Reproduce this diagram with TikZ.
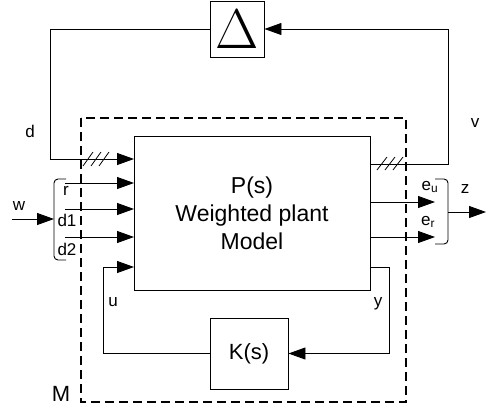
\documentclass[tikz,border=0pt]{standalone}
\usepackage{fontspec}
\setmainfont{Liberation Sans}
\usetikzlibrary{arrows.meta,positioning,calc}

\begin{document}
\begin{tikzpicture}[x=1pt,y=-1pt,
    blk/.style={draw,line width=0.9pt,inner sep=0pt},
    arr/.style={-{Triangle[length=17pt,width=12pt]},line width=0.9pt},
    wire/.style={line width=0.9pt},
    lbl/.style={font=\fontsize{17}{17}\selectfont,inner sep=0pt},
    hatch/.style={line width=0.8pt}]
    \useasboundingbox (0,0) rectangle (486,412);
    % blocks
    \node[blk,minimum width=54pt,minimum height=56pt] (Delta) at (237,29) {\scalebox{2.7}{\fontsize{22}{22}\selectfont$\Delta$}};
    \node[blk,minimum width=236pt,minimum height=154pt,align=center,font=\fontsize{23}{28}\selectfont] (P) at (252,213) {P(s)\\Weighted plant\\Model};
    \node[blk,minimum width=78pt,minimum height=71pt,font=\fontsize{22}{22}\selectfont] (K) at (249,353.5) {K(s)};
    % boundary of M
    \draw[line width=2.6pt,dash pattern=on 9pt off 5pt] (81,118) rectangle (406,402);
    % ports of P
    \coordinate (din) at (134,159);
    \coordinate (rin) at (134,183);
    \coordinate (d1in) at (134,209);
    \coordinate (d2in) at (134,237);
    \coordinate (uin) at (134,267);
    \coordinate (vout) at (370,164);
    \coordinate (euout) at (370,202);
    \coordinate (erout) at (370,237);
    \coordinate (yout) at (370,267);
    % input and output bundles
    \coordinate (wstart) at (12,219);
    \coordinate (wbr) at (54,219);
    \coordinate (zbr) at (448,212);
    \coordinate (zend) at (486,212);
    \draw[wire,rounded corners=4pt] (66,179) -| (54,260) -- (66,260);
    \draw[wire,rounded corners=4pt] (435,179) -| (448,244) -- (435,244);
    % uncertainty loop
    \draw[arr] (vout) -- ++(78,0) |- (Delta.east);
    \draw[arr] (Delta.west) -- ++(-159,0) |- (din);
    \foreach \hx in {83,91,99} \draw[hatch] (\hx,166) -- ++(10,-14);
    \foreach \hx in {377,385,393} \draw[hatch] (\hx,170) -- ++(10,-13);
    % exogenous inputs and errors
    \draw[arr] (wstart) -- (wbr);
    \draw[arr] ($(rin)+(-69,0)$) -- (rin);
    \draw[arr] ($(d1in)+(-69,0)$) -- (d1in);
    \draw[arr] ($(d2in)+(-69,0)$) -- (d2in);
    \draw[arr] (euout) -- ++(65,0);
    \draw[arr] (erout) -- ++(65,0);
    \draw[arr] (zbr) -- (zend);
    % controller loop
    \draw[arr] (K.west) -- ++(-106,0) |- (uin);
    \draw[arr] (yout) -- ++(19,0) |- (K.east);
    % labels
    \node[lbl] (dlbl) at (30,131) {d};
    \node[lbl] (vlbl) at (475,123) {v};
    \node[lbl] (wlbl) at (19,206) {w};
    \node[lbl] (rlbl) at (66,191) {r};
    \node[lbl] (d1lbl) at (67,220) {d1};
    \node[lbl] (d2lbl) at (67,249) {d2};
    \node[lbl] (ulbl) at (113,302) {u};
    \node[lbl] (ylbl) at (378,304) {y};
    \node[lbl] (eulbl) at (430,187) {e\textsubscript{u}};
    \node[lbl] (erlbl) at (428,222) {e\textsubscript{r}};
    \node[lbl] (zlbl) at (465,189) {z};
    \node[lbl,font=\fontsize{22}{22}\selectfont] (Mlbl) at (61,394) {M};
\end{tikzpicture}
\end{document}
